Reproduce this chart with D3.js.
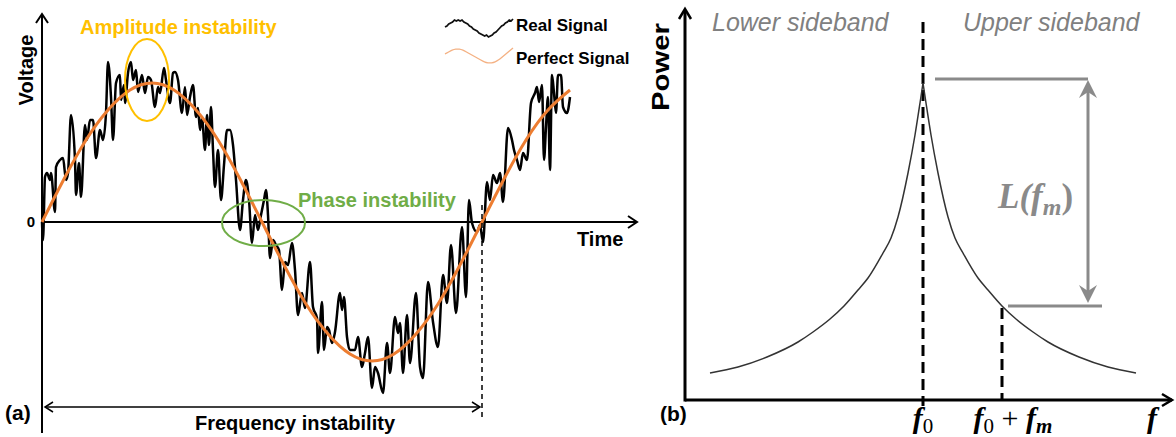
<!DOCTYPE html>
<html><head><meta charset="utf-8">
<script src="https://cdn.jsdelivr.net/npm/d3@7"></script>
<style>body{margin:0;background:#fff}svg{display:block}</style>
</head><body><svg id="c" width="1176" height="437"></svg>
<script>
// ---------- Panel (a) data: time (a.u.) vs voltage (a.u.) ----------
const realT = [0,1,3,5,8,9,13,14,18,21,24,26,29,33,34,37,39,43,45,48,51,54,58,61,64,66,69,71,74,78,79,82,83,86,89,91,94,96,100,103,106,109,113,116,118,122,124,128,131,133,136,140,143,145,148,151,154,156,158,160,163,165,167,169,171,173,176,179,182,185,188,191,194,198,201,204,207,210,213,216,219,222,224,226,228,231,234,237,240,243,246,250,253,256,260,263,268,271,275,276,280,282,285,287,290,293,298,300,302,305,308,313,316,320,323,326,330,333,336,341,345,348,353,356,358,361,365,368,374,378,381,386,391,396,401,405,409,414,420,424,427,430,435,438,441,445,448,451,455,458,461,466,470,472,475,478,481,485,489,493,495,497,500,502,504,506,508,510,512,514,516,519,521,525,528];
const realV = [0,-18,45,49,42,49,10,55,62,64,42,49,107,62,27,59,25,97,82,102,102,64,92,82,109,160,125,82,139,147,122,137,119,149,160,142,152,130,147,129,145,142,115,135,129,154,142,119,149,150,142,109,135,107,125,137,105,114,92,104,72,107,77,115,72,35,72,22,57,92,92,77,42,-8,22,42,22,-21,7,-8,7,22,32,7,-36,-18,-23,-28,-68,-40,-43,-21,-48,-93,-71,-86,-40,-85,-96,-131,-80,-128,-105,-108,-121,-110,-71,-88,-75,-115,-128,-128,-115,-145,-131,-115,-166,-145,-151,-171,-121,-151,-95,-111,-101,-151,-93,-141,-71,-145,-156,-60,-100,-125,-53,-81,-23,-91,-5,-75,22,-1,-10,-3,-20,40,22,47,39,49,20,94,82,72,62,52,69,62,119,129,135,120,137,62,95,125,52,147,129,109,147,147,115,109,125];
const perfectT = [0,22,44,66,88,110,132,154,176,198,220,242,264,286,308,330,352,374,396,418,440,462,484,506,528];
const perfectV = [0,43,82,112,132,139,132,112,82,43,0,-43,-82,-112,-132,-139,-132,-112,-82,-43,0,43,82,112,132];
const voltageTicks = [0];
const labelsA = {y:"Voltage", x:"Time", amp:"Amplitude instability", phase:"Phase instability", freq:"Frequency instability", panel:"(a)"};
const legendNames = ["Real Signal","Perfect Signal"];
const legendRealV = [1,2,4,5,6,8,7,8,7,8,6,5,4,2,1,-1,-2,-3,-5,-6,-7,-8,-7,-9,-8,-7,-5,-4,-2,0,2,3,5,6,8,7,9];
const legendPerfectV = [2,4,6,7,7,6,4,2,0,-2,-4,-6,-7,-7,-6,-4,-1,2,5,8];

// ---------- Panel (b) data: frequency offset from f0 vs power ----------
const freqOffset = [-213,-185,-156,-125,-110,-93,-79,-65,-55,-40,-32,-25,-15,-8,-3,0,3,8,15,25,32,40,55,65,79,93,110,125,156,185,213];
const powerVals  = [27,33,43,58,68,81,94,110,122,147,162,183,227,265,297,317,297,265,227,183,162,147,122,110,94,81,68,58,43,33,27];
const fmOffset = 79;
const labelsB = {y:"Power", lower:"Lower sideband", upper:"Upper sideband", panel:"(b)"};

const svg = d3.select("#c");
svg.append("rect").attr("width",1176).attr("height",437).attr("fill","#fff");
const SANS = "'Liberation Sans', Arial, sans-serif";
const SERIF = "'Liberation Serif', 'Times New Roman', serif";
const ORANGE = "#ED7D31", GOLD = "#FFC000", GREEN = "#70AD47", GREY = "#808080";

// ===== Panel (a) =====
const xA = d3.scaleLinear().domain([0, 595]).range([42, 637]);
const yA = d3.scaleLinear().domain([-139, 139]).range([361, 83]);
const gA = svg.append("g");

// axes
gA.append("line").attr("x1",xA(0)).attr("x2",xA(0)).attr("y1",433).attr("y2",14).attr("stroke","#000").attr("stroke-width",2);
gA.append("path").attr("d",`M${xA(0)-6},23 L${xA(0)},14 L${xA(0)+6},23`).attr("fill","none").attr("stroke","#000").attr("stroke-width",2);
gA.append("line").attr("x1",xA(0)).attr("x2",xA(595)).attr("y1",yA(0)).attr("y2",yA(0)).attr("stroke","#000").attr("stroke-width",2);
gA.append("path").attr("d",`M${xA(595)-9},${yA(0)-6} L${xA(595)},${yA(0)} L${xA(595)-9},${yA(0)+6}`).attr("fill","none").attr("stroke","#000").attr("stroke-width",2);

const axL = gA.append("g").attr("transform",`translate(${xA(0)},0)`)
  .call(d3.axisLeft(yA).tickValues(voltageTicks).tickSize(0).tickPadding(7).tickFormat(d3.format("d")));
axL.select(".domain").remove();
axL.selectAll("text").attr("text-anchor","end").attr("x",-7).attr("font-family",SANS).attr("font-weight","bold").attr("font-size",15).attr("fill","#000");

gA.append("text").attr("transform","translate(33,70) rotate(-90)").attr("text-anchor","middle")
  .attr("font-family",SANS).attr("font-weight","bold").attr("font-size",20).text(labelsA.y);
gA.append("text").attr("x",577).attr("y",246).attr("font-family",SANS).attr("font-weight","bold").attr("font-size",20).text(labelsA.x);

// perfect signal
const linePerf = d3.line().x((d,i)=>xA(perfectT[i])).y((d,i)=>yA(perfectV[i])).curve(d3.curveNatural);
// real signal
const lineReal = d3.line().x((d,i)=>xA(realT[i])).y((d,i)=>yA(realV[i])).curve(d3.curveMonotoneX);
gA.append("path").attr("d",lineReal(realT)).attr("fill","none").attr("stroke","#000").attr("stroke-width",2.5).attr("stroke-linejoin","round");
gA.append("path").attr("d",linePerf(perfectT)).attr("fill","none").attr("stroke",ORANGE).attr("stroke-width",3);

// annotations
gA.append("ellipse").attr("cx",147).attr("cy",80).attr("rx",22).attr("ry",41).attr("fill","none").attr("stroke",GOLD).attr("stroke-width",2);
gA.append("text").attr("x",80).attr("y",34).attr("font-family",SANS).attr("font-weight","bold").attr("font-size",20).attr("fill",GOLD).text(labelsA.amp);
gA.append("ellipse").attr("cx",xA(221.5)).attr("cy",yA(0)+1).attr("rx",41.5).attr("ry",23).attr("fill","none").attr("stroke",GREEN).attr("stroke-width",2);
gA.append("text").attr("x",298).attr("y",207).attr("font-family",SANS).attr("font-weight","bold").attr("font-size",20).attr("fill",GREEN).text(labelsA.phase);

// frequency instability
const xPeriod = xA(440);
gA.append("line").attr("x1",xPeriod).attr("x2",xPeriod).attr("y1",205).attr("y2",420).attr("stroke","#000").attr("stroke-width",1.5).attr("stroke-dasharray","5,4");
gA.append("line").attr("x1",xA(3)).attr("x2",xPeriod-2).attr("y1",407).attr("y2",407).attr("stroke","#000").attr("stroke-width",1.5);
gA.append("path").attr("d",`M${xA(3)+8},402 L${xA(3)},407 L${xA(3)+8},412`).attr("fill","none").attr("stroke","#000").attr("stroke-width",1.5);
gA.append("path").attr("d",`M${xPeriod-10},402 L${xPeriod-2},407 L${xPeriod-10},412`).attr("fill","none").attr("stroke","#000").attr("stroke-width",1.5);
gA.append("text").attr("x",295).attr("y",430).attr("text-anchor","middle").attr("font-family",SANS).attr("font-weight","bold").attr("font-size",20).text(labelsA.freq);
gA.append("text").attr("x",5).attr("y",420).attr("font-family",SANS).attr("font-weight","bold").attr("font-size",21).text(labelsA.panel);

// legend
const lgX = d3.scaleLinear().domain([0,1]).range([445,513]);
const lgReal = d3.line().x((d,i)=>lgX(i/(legendRealV.length-1))).y(d=>28-d);
gA.append("path").attr("d",lgReal(legendRealV)).attr("fill","none").attr("stroke","#111").attr("stroke-width",1.8);
const lgPerf = d3.line().x((d,i)=>lgX(i/(legendPerfectV.length-1))).y(d=>56-d).curve(d3.curveBasis);
gA.append("path").attr("d",lgPerf(legendPerfectV)).attr("fill","none").attr("stroke","#F4B183").attr("stroke-width",1.3);
legendNames.forEach((n,i)=>{
  gA.append("text").attr("x",516).attr("y",31+i*33).attr("font-family",SANS).attr("font-weight","bold").attr("font-size",17).text(n);
});

// ===== Panel (b) =====
const xB = d3.scaleLinear().domain([-238, 249]).range([685, 1172]);
const yB = d3.scaleLinear().domain([0, 320]).range([400, 80]);
const gB = svg.append("g");

gB.append("line").attr("x1",xB(-238)).attr("x2",xB(-238)).attr("y1",yB(0)+1.5).attr("y2",10).attr("stroke","#000").attr("stroke-width",3);
gB.append("path").attr("d",`M${xB(-238)-6},19 L${xB(-238)},9 L${xB(-238)+6},19`).attr("fill","none").attr("stroke","#000").attr("stroke-width",2.5);
gB.append("line").attr("x1",xB(-238)).attr("x2",xB(249)).attr("y1",yB(0)).attr("y2",yB(0)).attr("stroke","#000").attr("stroke-width",3);
gB.append("path").attr("d",`M${xB(249)-10},${yB(0)-6} L${xB(249)},${yB(0)} L${xB(249)-10},${yB(0)+6}`).attr("fill","none").attr("stroke","#000").attr("stroke-width",2.5);

gB.append("text").attr("transform","translate(669,67) rotate(-90)").attr("text-anchor","middle")
  .attr("font-family",SANS).attr("font-weight","bold").attr("font-size",24).attr("textLength",88).attr("lengthAdjust","spacingAndGlyphs").text(labelsB.y);
gB.append("text").attr("x",712).attr("y",31).attr("font-family",SANS).attr("font-style","italic").attr("font-size",25).attr("fill",GREY).text(labelsB.lower);
gB.append("text").attr("x",963).attr("y",31).attr("font-family",SANS).attr("font-style","italic").attr("font-size",25).attr("fill",GREY).text(labelsB.upper);
gB.append("text").attr("x",660).attr("y",421).attr("font-family",SANS).attr("font-weight","bold").attr("font-size",21).text(labelsB.panel);

// dashed markers
gB.append("line").attr("x1",xB(0)).attr("x2",xB(0)).attr("y1",22).attr("y2",406).attr("stroke","#000").attr("stroke-width",3).attr("stroke-dasharray","11,6");
const pm = powerVals[freqOffset.indexOf(fmOffset)];
gB.append("line").attr("x1",xB(fmOffset)).attr("x2",xB(fmOffset)).attr("y1",yB(pm)+2).attr("y2",yB(0)).attr("stroke","#000").attr("stroke-width",3).attr("stroke-dasharray","11,6");

// spectrum curve: two halves (cusp at f0)
const idx0 = freqOffset.indexOf(0);
const lineB = d3.line().x(d=>xB(d[0])).y(d=>yB(d[1])).curve(d3.curveMonotoneX);
const pts = freqOffset.map((f,i)=>[f,powerVals[i]]);
gB.append("path").attr("d",lineB(pts.slice(0,idx0+1))).attr("fill","none").attr("stroke","#333").attr("stroke-width",1.5);
gB.append("path").attr("d",lineB(pts.slice(idx0))).attr("fill","none").attr("stroke","#333").attr("stroke-width",1.5);

// L(fm) annotation
const peakP = powerVals[idx0];
const AG = "#8a8a8a";
const yTop = yB(peakP)-4, yBot = yB(pm), xArr = 1088;
gB.append("line").attr("x1",935).attr("x2",xArr).attr("y1",yTop).attr("y2",yTop).attr("stroke",AG).attr("stroke-width",3);
gB.append("line").attr("x1",xB(fmOffset)+6).attr("x2",1102).attr("y1",yBot).attr("y2",yBot).attr("stroke",AG).attr("stroke-width",3);
gB.append("line").attr("x1",xArr).attr("x2",xArr).attr("y1",yTop+10).attr("y2",yBot-10).attr("stroke",AG).attr("stroke-width",3);
gB.append("path").attr("d",`M${xArr-9},${yTop+19} L${xArr},${yTop+1} L${xArr+9},${yTop+19} L${xArr},${yTop+13} Z`).attr("fill",AG);
gB.append("path").attr("d",`M${xArr-9},${yBot-21} L${xArr},${yBot-3} L${xArr+9},${yBot-21} L${xArr},${yBot-15} Z`).attr("fill",AG);
const lt = gB.append("text").attr("x",998).attr("y",208).attr("font-family",SERIF).attr("font-weight","bold").attr("font-style","italic").attr("font-size",35).attr("fill",AG);
lt.append("tspan").text("L(");
lt.append("tspan").text("f");
lt.append("tspan").attr("dy",7).attr("font-size",24).text("m");
lt.append("tspan").attr("dy",-7).attr("font-style","normal").text(")");

// frequency labels
const t0 = gB.append("text").attr("x",xB(0)).attr("y",428).attr("text-anchor","middle").attr("font-family",SERIF).attr("font-size",30);
t0.append("tspan").attr("font-weight","bold").attr("font-style","italic").text("f");
t0.append("tspan").attr("dy",5).attr("font-size",21).text("0");
const t1 = gB.append("text").attr("x",xB(fmOffset)+11).attr("y",428).attr("text-anchor","middle").attr("font-family",SERIF).attr("font-size",30);
t1.append("tspan").attr("font-weight","bold").attr("font-style","italic").text("f");
t1.append("tspan").attr("dy",5).attr("font-size",21).text("0");
t1.append("tspan").attr("dy",-5).text(" + ");
t1.append("tspan").attr("font-weight","bold").attr("font-style","italic").text("f");
t1.append("tspan").attr("dy",5).attr("font-size",21).attr("font-weight","bold").attr("font-style","italic").text("m");
gB.append("text").attr("x",1152).attr("y",428).attr("text-anchor","middle").attr("font-family",SERIF).attr("font-size",30).attr("font-weight","bold").attr("font-style","italic").text("f");
</script></body></html>
